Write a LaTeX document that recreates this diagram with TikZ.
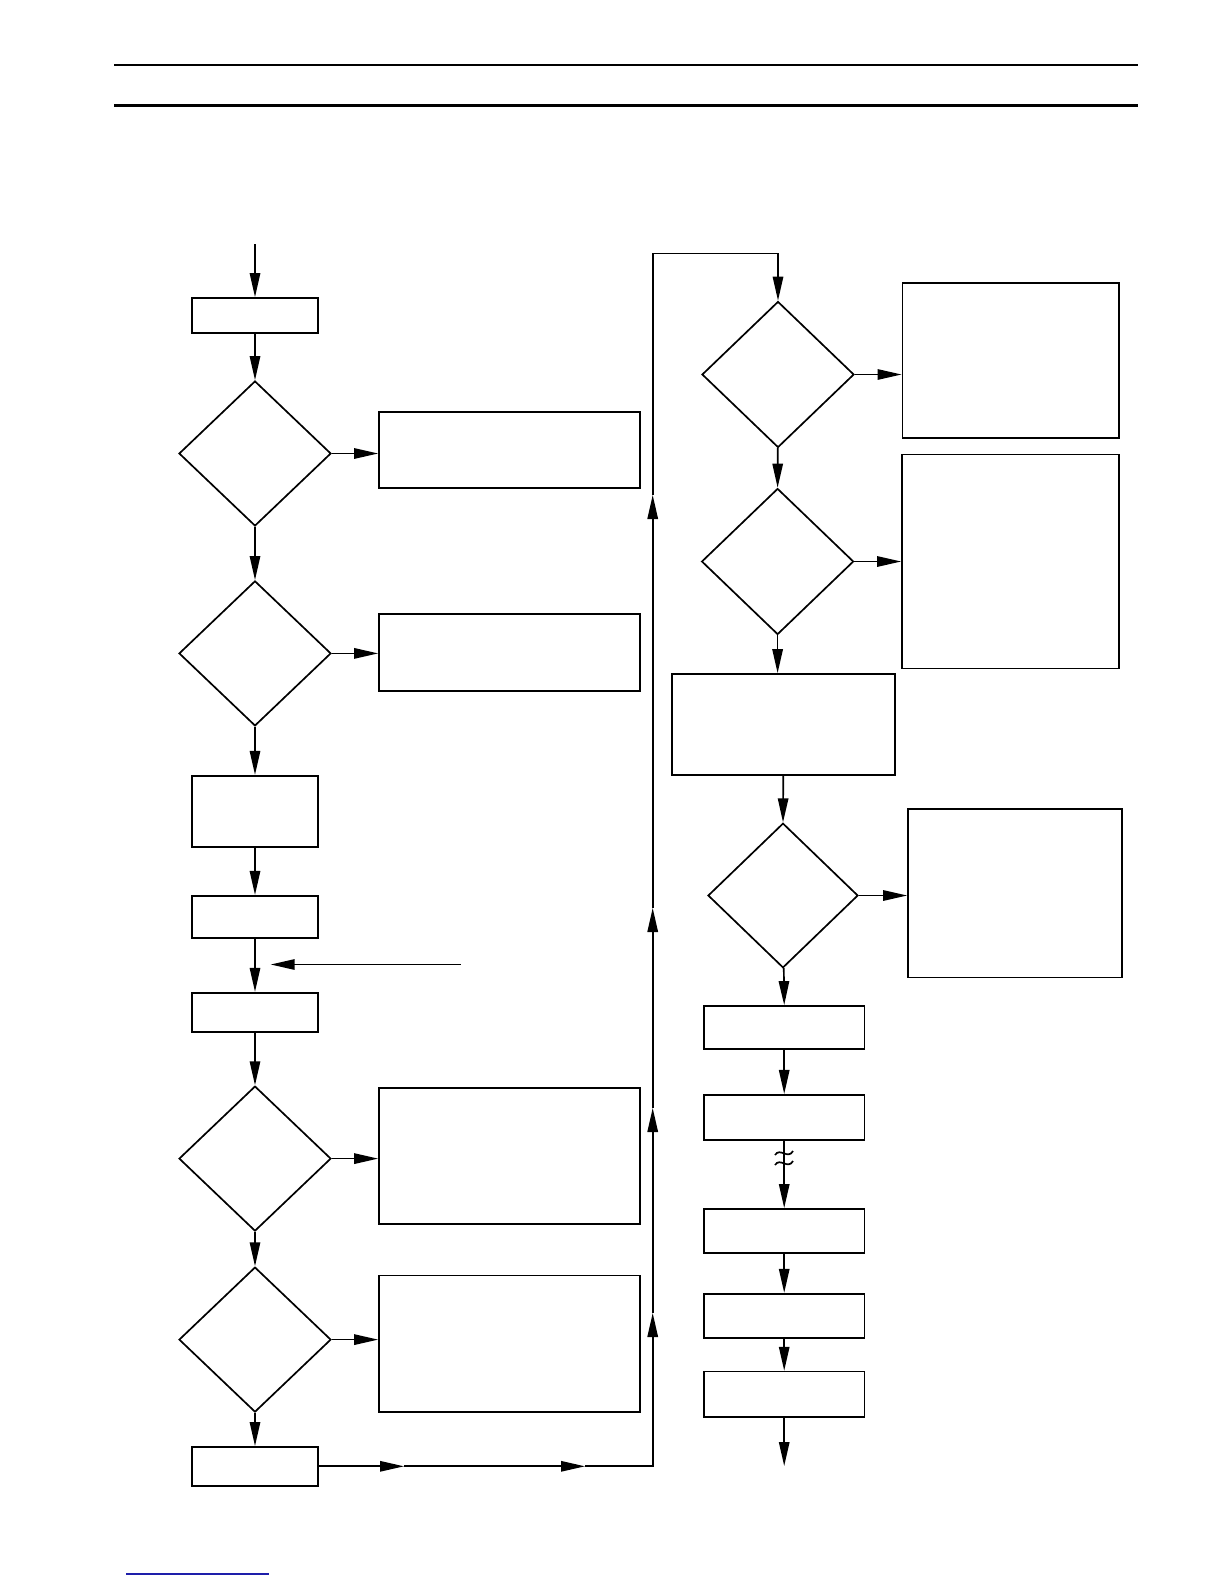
\documentclass[tikz,border=0pt]{standalone}
\usepackage{tikz}
\usepackage{xcolor}
\usetikzlibrary{shapes.geometric,arrows.meta}
\definecolor{linkblue}{RGB}{30,30,170}

\begin{document}
\begin{tikzpicture}[x=0.5pt,y=-0.5pt]
\tikzstyle{line}=[black,line width=0.85pt]
\tikzstyle{arr}=[line,-{Triangle[length=12pt,width=5.2pt]}]
\tikzstyle{box}=[draw,line width=0.85pt,inner sep=0pt]
\tikzstyle{ask}=[draw,line width=0.85pt,diamond,inner sep=0pt,minimum width=76pt,minimum height=72.5pt]

\useasboundingbox (0,0) rectangle (1224,1584);

\draw[line width=1.1pt] (114,65) -- (1138,65);
\draw[line width=1.1pt] (114,105.5) -- (1138,105.5);

\node[box,minimum width=63pt,minimum height=17.5pt] (b1) at (255,315.5) {};
\node[ask] (d1) at (255,453.5) {};
\node[box,minimum width=130.5pt,minimum height=38pt] (r1) at (509.5,450) {};
\node[ask] (d2) at (255,653.4) {};
\node[box,minimum width=130.5pt,minimum height=38.5pt] (r2) at (509.5,652.5) {};
\node[box,minimum width=63pt,minimum height=35.8pt] (b3) at (255,811.5) {};
\node[box,minimum width=63pt,minimum height=21.2pt] (b4) at (255,917) {};
\node[box,minimum width=63pt,minimum height=19.7pt] (b5) at (255,1012.4) {};
\node[ask] (d3) at (255,1158.6) {};
\node[box,minimum width=130.5pt,minimum height=68.2pt] (r3) at (509.5,1155.9) {};
\node[ask] (d4) at (255,1339.6) {};
\node[box,minimum width=130.5pt,minimum height=68.2pt] (r4) at (509.5,1343.7) {};
\node[box,minimum width=63pt,minimum height=19.4pt] (b6) at (255,1466.3) {};

\node[ask,minimum height=73pt] (d5) at (778,374.5) {};
\node[box,minimum width=108.3pt,minimum height=77.5pt] (r5) at (1010.7,360.8) {};
\node[ask,minimum height=73pt] (d6) at (777.6,561.5) {};
\node[box,minimum width=108.5pt,minimum height=107pt] (r6) at (1010.5,561.5) {};
\node[box,minimum width=111.5pt,minimum height=50.5pt] (b7) at (783.5,724.5) {};
\node[ask,minimum width=75pt,minimum height=72.3pt] (d7) at (783,895.5) {};
\node[box,minimum width=107pt,minimum height=84.3pt] (r7) at (1015,893.3) {};
\node[box,minimum width=80.2pt,minimum height=21.7pt] (b8) at (784.2,1027.6) {};
\node[box,minimum width=80.2pt,minimum height=22.6pt] (b9) at (784.2,1117.4) {};
\node[box,minimum width=80.2pt,minimum height=22.2pt] (b10) at (784.2,1231.1) {};
\node[box,minimum width=80.2pt,minimum height=22.2pt] (b11) at (784.2,1315.9) {};
\node[box,minimum width=80.2pt,minimum height=22.6pt] (b12) at (784.2,1394.2) {};

\coordinate (in) at (255,244);
\coordinate (out) at (784.2,1466);
\coordinate (s1) at (460.5,964.5);
\coordinate (s2) at (270.7,964.5);
\coordinate (h1) at (404,1466.3);
\coordinate (h2) at (585,1466.3);
\coordinate (lb) at (652.7,1466.3);
\coordinate (v1) at (652.7,1313);
\coordinate (v2) at (652.7,1108);
\coordinate (v3) at (652.7,908);
\coordinate (v4) at (652.7,495);
\coordinate (lt) at (652.7,253.5);
\coordinate (rt) at (778,253.5);

\draw[arr] (in) -- (b1.north);
\draw[arr] (b1) -- (d1.north);
\draw[arr] (d1.east) -- (d1.east -| r1.west);
\draw[arr] (d1) -- (d2.north);
\draw[arr] (d2.east) -- (d2.east -| r2.west);
\draw[arr] (d2) -- (b3.north);
\draw[arr] (b3) -- (b4.north);
\draw[arr] (b4) -- (b5.north);
\draw[arr] (s1) -- (s2);
\draw[arr] (b5) -- (d3.north);
\draw[arr] (d3.east) -- (d3.east -| r3.west);
\draw[arr] (d3) -- (d4.north);
\draw[arr] (d4.east) -- (d4.east -| r4.west);
\draw[arr] (d4) -- (b6.north);

\draw[arr] (b6.east) -- (h1);
\draw[arr] (h1) -- (h2);
\draw[arr] (h2) -- (lb) -- (v1);
\draw[arr] (v1) -- (v2);
\draw[arr] (v2) -- (v3);
\draw[arr] (v3) -- (v4);
\draw[arr] (v4) -- (lt) -- (rt) -- (d5.north);

\draw[arr] (d5.east) -- (d5.east -| r5.west);
\draw[arr] (d5) -- (d6.north);
\draw[arr] (d6.east) -- (d6.east -| r6.west);
\draw[arr] (d6.south) -- (d6.south |- b7.north);
\draw[arr] (b7) -- (d7.north);
\draw[arr] (d7.east) -- (d7.east -| r7.west);
\draw[arr] (d7) -- (b8.north);
\draw[arr] (b8) -- (b9.north);
\draw[arr] (b9) -- (b10.north);
\draw[line] (775,1155) .. controls (780,1147) and (788,1160) .. (793,1151);
\draw[line] (775,1165) .. controls (780,1157) and (788,1170) .. (793,1161);
\draw[arr] (b10) -- (b11.north);
\draw[arr] (b11) -- (b12.north);
\draw[arr] (b12) -- (out);

\draw[linkblue,line width=0.6pt] (126,1574) -- (269,1574);
\end{tikzpicture}
\end{document}
